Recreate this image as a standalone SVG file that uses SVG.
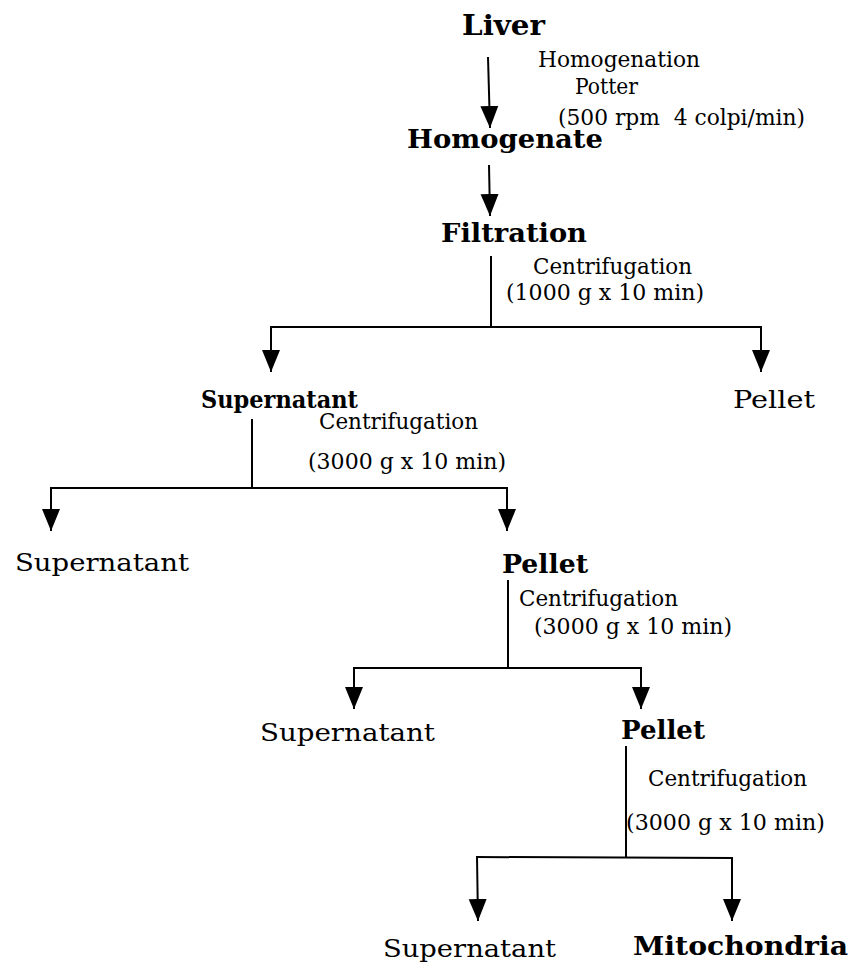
<svg xmlns="http://www.w3.org/2000/svg" width="850" height="965" viewBox="0 0 850 965">
  <style>
    .b { font-family: "DejaVu Serif", "Liberation Serif", serif; font-weight: bold; font-size: 26px; fill: #000; }
    .r { font-family: "DejaVu Serif", "Liberation Serif", serif; font-size: 22px; fill: #000; }
    .n { font-family: "DejaVu Serif", "Liberation Serif", serif; font-size: 24px; fill: #000; }
    .ln { stroke: #000; stroke-width: 2; fill: none; }
    .ar { stroke: #000; stroke-width: 2; fill: none; marker-end: url(#head); }
  </style>
  <defs>
    <marker id="head" markerUnits="userSpaceOnUse" markerWidth="24" markerHeight="20" viewBox="0 -10 24 20" refX="22" refY="0" orient="auto">
      <path d="M0,-9 L22,0 L0,9 Z" fill="#000"/>
    </marker>
  </defs>
  <rect width="850" height="965" fill="#fff"/>

  <!-- process steps -->
  <g id="liver"><text class="b" x="462" y="35" style="font-size:28px" textLength="83" lengthAdjust="spacingAndGlyphs">Liver</text></g>
  <g id="step-homogenation">
    <text class="r" x="538" y="67" textLength="162" lengthAdjust="spacingAndGlyphs">Homogenation</text>
    <text class="r" x="575" y="94" textLength="63" lengthAdjust="spacingAndGlyphs">Potter</text>
    <text class="r" x="558" y="125" textLength="247" lengthAdjust="spacingAndGlyphs" xml:space="preserve">(500 rpm  4 colpi/min)</text>
  </g>
  <g id="homogenate"><text class="b" x="407" y="148" textLength="196" lengthAdjust="spacingAndGlyphs">Homogenate</text></g>
  <g id="filtration"><text class="b" x="441" y="242" textLength="146" lengthAdjust="spacingAndGlyphs">Filtration</text></g>
  <g id="step-centrifugation-1">
    <text class="r" x="533" y="274" textLength="159" lengthAdjust="spacingAndGlyphs">Centrifugation</text>
    <text class="r" x="506" y="300" textLength="198" lengthAdjust="spacingAndGlyphs">(1000 g x 10 min)</text>
  </g>
  <g id="supernatant-1"><text class="b" x="201" y="408" style="font-size:25px" textLength="157" lengthAdjust="spacingAndGlyphs">Supernatant</text></g>
  <g id="pellet-1"><text class="n" x="733" y="408" textLength="82" lengthAdjust="spacingAndGlyphs">Pellet</text></g>
  <g id="step-centrifugation-2">
    <text class="r" x="319" y="429" textLength="159" lengthAdjust="spacingAndGlyphs">Centrifugation</text>
    <text class="r" x="308" y="469" textLength="198" lengthAdjust="spacingAndGlyphs">(3000 g x 10 min)</text>
  </g>
  <g id="supernatant-2"><text class="n" x="15" y="571" textLength="174" lengthAdjust="spacingAndGlyphs">Supernatant</text></g>
  <g id="pellet-2"><text class="b" x="502" y="573" textLength="86" lengthAdjust="spacingAndGlyphs">Pellet</text></g>
  <g id="step-centrifugation-3">
    <text class="r" x="519" y="606" textLength="159" lengthAdjust="spacingAndGlyphs">Centrifugation</text>
    <text class="r" x="534" y="634" textLength="198" lengthAdjust="spacingAndGlyphs">(3000 g x 10 min)</text>
  </g>
  <g id="supernatant-3"><text class="n" x="260" y="741" textLength="175" lengthAdjust="spacingAndGlyphs">Supernatant</text></g>
  <g id="pellet-3"><text class="b" x="621" y="739" textLength="84" lengthAdjust="spacingAndGlyphs">Pellet</text></g>
  <g id="step-centrifugation-4">
    <text class="r" x="648" y="786" textLength="159" lengthAdjust="spacingAndGlyphs">Centrifugation</text>
    <text class="r" x="626" y="830" textLength="199" lengthAdjust="spacingAndGlyphs">(3000 g x 10 min)</text>
  </g>
  <g id="supernatant-4"><text class="n" x="383" y="957" textLength="173" lengthAdjust="spacingAndGlyphs">Supernatant</text></g>
  <g id="mitochondria"><text class="b" x="633" y="955" textLength="215" lengthAdjust="spacingAndGlyphs">Mitochondria</text></g>

  <!-- connectors -->
  <g id="connectors">
    <line class="ar" x1="488" y1="57" x2="490" y2="128"/>
    <line class="ar" x1="489" y1="165" x2="490" y2="216"/>

    <line class="ln" x1="491" y1="256" x2="491" y2="327"/>
    <line class="ln" x1="270" y1="327" x2="762" y2="327"/>
    <line class="ar" x1="271" y1="326" x2="271" y2="372"/>
    <line class="ar" x1="761" y1="326" x2="761" y2="372"/>

    <line class="ln" x1="252" y1="419" x2="252" y2="488"/>
    <line class="ln" x1="50" y1="488" x2="508" y2="488"/>
    <line class="ar" x1="51" y1="487" x2="51" y2="531"/>
    <line class="ar" x1="507" y1="487" x2="507" y2="531"/>

    <line class="ln" x1="508" y1="580" x2="508" y2="668"/>
    <line class="ln" x1="353" y1="668" x2="642" y2="668"/>
    <line class="ar" x1="354" y1="667" x2="354" y2="709"/>
    <line class="ar" x1="641" y1="667" x2="641" y2="709"/>

    <line class="ln" x1="626" y1="746" x2="626" y2="858"/>
    <line class="ln" x1="476" y1="857" x2="733" y2="858"/>
    <line class="ar" x1="477" y1="857" x2="478" y2="921"/>
    <line class="ar" x1="732" y1="857" x2="732" y2="921"/>
  </g>
</svg>
